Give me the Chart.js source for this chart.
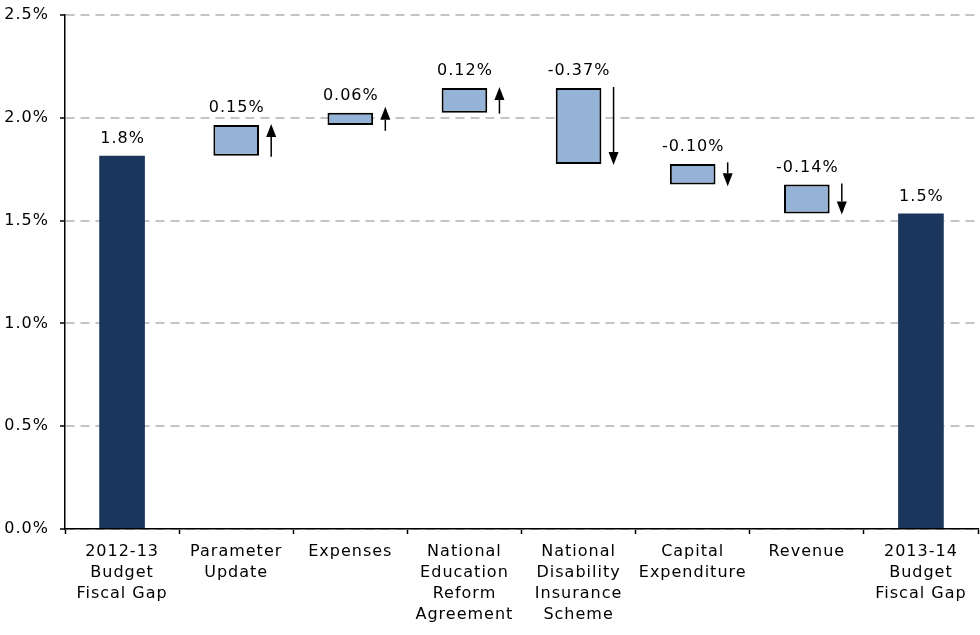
<!DOCTYPE html>
<html>
<head>
<meta charset="utf-8">
<script src="https://cdn.jsdelivr.net/npm/chart.js@4/dist/chart.umd.min.js"></script>
<style>
  html, body { margin: 0; padding: 0; background: #ffffff; }
  #wrap { width: 980px; height: 635px; }
</style>
</head>
<body>
<div id="wrap"><canvas id="c" width="980" height="635"></canvas></div>
<script>
const categories = [
  ["2012-13", "Budget", "Fiscal Gap"],
  ["Parameter", "Update"],
  ["Expenses"],
  ["National", "Education", "Reform", "Agreement"],
  ["National", "Disability", "Insurance", "Scheme"],
  ["Capital", "Expenditure"],
  ["Revenue"],
  ["2013-14", "Budget", "Fiscal Gap"]
];
const barLow  = [0,     1.815, 1.965, 2.025, 1.775, 1.675, 1.535, 0];
const barHigh = [1.815, 1.965, 2.025, 2.145, 2.145, 1.775, 1.675, 1.535];
const barLabels = ["1.8%", "0.15%", "0.06%", "0.12%", "-0.37%", "-0.10%", "-0.14%", "1.5%"];
const changes = [null, 0.15, 0.06, 0.12, -0.37, -0.10, -0.14, null];

const FONT = "'DejaVu Sans', sans-serif";
const navy = "#1b365d";
const light = "#95b3d7";

const isTotal = changes.map(c => c === null);

const spacing = {
  id: "spacing",
  beforeDraw(chart) { chart.ctx.letterSpacing = "1px"; },
  beforeLayout(chart) { chart.ctx.letterSpacing = "1px"; }
};

const annotate = {
  id: "annotate",
  afterDatasetsDraw(chart) {
    const ctx = chart.ctx;
    const meta = chart.getDatasetMeta(0);
    const ys = chart.scales.y;
    ctx.save();
    ctx.letterSpacing = "1px";
    ctx.fillStyle = "#000";
    ctx.font = "16px " + FONT;
    ctx.textAlign = "center";
    ctx.textBaseline = "middle";
    meta.data.forEach((el, i) => {
      const top = ys.getPixelForValue(Math.max(barLow[i], barHigh[i]));
      ctx.fillText(barLabels[i], el.x + 0.5, top - 17);
      const c = changes[i];
      if (c === null) return;
      const yLo = ys.getPixelForValue(barLow[i]);
      const yHi = ys.getPixelForValue(barHigh[i]);
      let y1 = Math.max(yLo, yHi), y2 = Math.min(yLo, yHi);
      const minLen = 22;
      if (y1 - y2 < minLen) {
        const mid = (y1 + y2) / 2;
        y1 = mid + minLen / 2; y2 = mid - minLen / 2;
      }
      const ax = el.x + 35;
      const up = c > 0;
      const tip = up ? y2 - 1 : y1 + 1;
      const tail = up ? y1 + 1 : y2 - 1;
      const hl = 13, hw = 5;
      const base = up ? tip + hl : tip - hl;
      ctx.strokeStyle = "#000";
      ctx.lineWidth = 1.5;
      ctx.beginPath();
      ctx.moveTo(ax, tail);
      ctx.lineTo(ax, base);
      ctx.stroke();
      ctx.beginPath();
      ctx.moveTo(ax, tip);
      ctx.lineTo(ax - hw, base);
      ctx.lineTo(ax + hw, base);
      ctx.closePath();
      ctx.fill();
    });
    ctx.restore();
  }
};

new Chart(document.getElementById("c"), {
  type: "bar",
  data: {
    labels: categories,
    datasets: [{
      data: barLow.map((lo, i) => [lo, barHigh[i]]),
      backgroundColor: isTotal.map(t => t ? navy : light),
      borderColor: "#000",
      borderWidth: isTotal.map(t => t ? 0 : 2),
      borderSkipped: false,
      categoryPercentage: 1,
      barPercentage: 0.4
    }]
  },
  options: {
    responsive: false,
    animation: false,
    devicePixelRatio: 1,
    layout: { padding: { top: 15, right: 2, left: 0, bottom: 0 } },
    plugins: { legend: { display: false }, tooltip: { enabled: false } },
    scales: {
      x: {
        offset: true,
        grid: { drawOnChartArea: false, offset: true, tickLength: 5, tickColor: "#000", tickWidth: 1.5 },
        border: { color: "#000", width: 1.5 },
        ticks: {
          color: "#000", font: { family: FONT, size: 16, lineHeight: 1.32 },
          padding: 7, maxRotation: 0, minRotation: 0, autoSkip: false
        },
        afterFit(s) { s.height = 106; s.paddingLeft = 0; s.paddingRight = 0; }
      },
      y: {
        min: 0, max: 2.5,
        grid: { color: "#c4c4c4", lineWidth: 2, tickLength: 5, tickColor: "#000", tickWidth: 1.5 },
        border: { color: "#000", width: 1.5, dash: [9, 6] },
        ticks: {
          stepSize: 0.5, color: "#000", font: { family: FONT, size: 16 }, padding: 11,
          callback: v => v.toFixed(1) + "%"
        },
        afterFit(s) { s.width = 65; s.paddingTop = 0; s.paddingBottom = 0; }
      }
    }
  },
  plugins: [spacing, annotate]
});
</script>
</body>
</html>
